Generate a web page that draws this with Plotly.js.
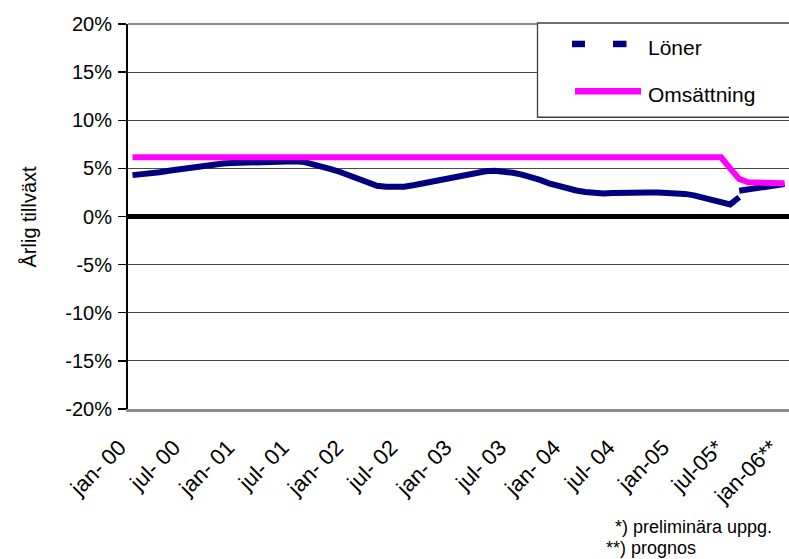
<!DOCTYPE html>
<html>
<head>
<meta charset="utf-8">
<script src="https://cdn.plot.ly/plotly-3.0.1.min.js"></script>
<style>
  html, body { margin: 0; padding: 0; background: #fff; }
  #chart { width: 789px; height: 559px; }
</style>
</head>
<body>
<div id="chart"></div>
<script>
// Monthly categories, jan 2000 – jan 2006
const monthNames = ['jan','feb','mar','apr','maj','jun','jul','aug','sep','okt','nov','dec'];
const years = ['00','01','02','03','04','05','06'];
const months = [];
years.forEach(function (yy) {
  monthNames.forEach(function (m) {
    if (months.length < 73) months.push(m + '-' + yy);
  });
});

// Labelled ticks every six months
const tickCategories = ['jan-00','jul-00','jan-01','jul-01','jan-02','jul-02','jan-03',
                        'jul-03','jan-04','jul-04','jan-05','jul-05','jan-06'];
const tickLabels = ['jan- 00','jul- 00','jan- 01','jul- 01','jan- 02','jul- 02','jan- 03',
                    'jul- 03','jan- 04','jul- 04','jan-05','jul-05*','jan-06**'];

// Y axis ticks (percent)
const yTickValues = [-20, -15, -10, -5, 0, 5, 10, 15, 20];
const yTickLabels = ['-20%', '-15%', '-10%', '-5%', '0%', '5%', '10%', '15%', '20%'];

// Löner, annual growth in percent (jan-00 .. aug-05)
const lonerUtfall = [
  4.30, 4.35, 4.45, 4.60, 4.75, 4.90, 5.05, 5.20, 5.30, 5.40, 5.50, 5.55,
  5.60, 5.60, 5.65, 5.70, 5.80, 5.80, 5.75, 5.65, 5.45, 5.20, 4.90, 4.60,
  4.25, 3.85, 3.45, 3.20, 3.10, 3.05, 3.10, 3.25, 3.45, 3.65, 3.85, 4.05,
  4.25, 4.45, 4.60, 4.70, 4.75, 4.70, 4.55, 4.35, 4.15, 3.80, 3.45, 3.15,
  2.90, 2.70, 2.55, 2.45, 2.40, 2.45, 2.50, 2.55, 2.55, 2.50, 2.50, 2.50,
  2.45, 2.35, 2.20, 2.00, 1.80, 1.55, 1.25, 2.00
];
// Löner, forecast (aug-05 .. jan-06)
const lonerPrognos = [2.67, 2.82, 2.96, 3.10, 3.24, 3.38];

// Omsättning, annual growth in percent (jan-00 .. jan-06)
const omsattning = [
  6.15, 6.15, 6.15, 6.15, 6.15, 6.15, 6.15, 6.15, 6.15, 6.15, 6.15, 6.15,
  6.15, 6.15, 6.15, 6.15, 6.15, 6.15, 6.15, 6.15, 6.15, 6.15, 6.15, 6.15,
  6.15, 6.15, 6.15, 6.15, 6.15, 6.15, 6.15, 6.15, 6.15, 6.15, 6.15, 6.15,
  6.15, 6.15, 6.15, 6.15, 6.15, 6.15, 6.15, 6.15, 6.15, 6.15, 6.15, 6.15,
  6.15, 6.15, 6.15, 6.15, 6.15, 6.15, 6.15, 6.15, 6.15, 6.15, 6.15, 6.15,
  6.15, 6.15, 6.15, 6.15, 6.15, 6.15, 5.00, 3.90, 3.55, 3.50, 3.50, 3.45,
  3.45
];

const seriesNames = ['Löner', 'Omsättning'];
const yTitle = 'Årlig tillväxt';
const footnotes = ['*) preliminära uppg.', '**) prognos'];

const NAVY = '#000080';
const PINK = '#FF00FF';
const FONT = 'Liberation Sans, Arial, sans-serif';

// Plot area in pixels
const W = 789, H = 559;
const L = 128, R = 789, T = 23.5, B = 409.5;
const px = function (x) { return (x - L) / (R - L); };
const py = function (y) { return (B - y) / (B - T); };

const traces = [
  {
    x: months.slice(0, lonerUtfall.length), y: lonerUtfall,
    type: 'scatter', mode: 'lines', name: seriesNames[0], showlegend: false,
    line: { color: NAVY, width: 6 }, hoverinfo: 'x+y'
  },
  {
    x: months.slice(months.length - lonerPrognos.length), y: lonerPrognos,
    type: 'scatter', mode: 'lines', name: seriesNames[0], showlegend: false,
    line: { color: NAVY, width: 6 }, hoverinfo: 'x+y'
  },
  {
    x: months, y: omsattning,
    type: 'scatter', mode: 'lines', name: seriesNames[1], showlegend: false,
    line: { color: PINK, width: 6 }, hoverinfo: 'x+y'
  }
];

// Legend frame and samples, plus the plot area's top border
const shapes = [
  { type: 'line', xref: 'paper', yref: 'paper', x0: 0, x1: 1, y0: 1, y1: 1,
    line: { color: '#8c8c8c', width: 2 }, layer: 'above' },
  { type: 'rect', xref: 'paper', yref: 'paper',
    x0: px(537.5), x1: px(805), y0: py(22.5), y1: py(117),
    fillcolor: '#ffffff', line: { color: '#404040', width: 1.3 }, layer: 'above' },
  { type: 'line', xref: 'paper', yref: 'paper', x0: px(572), x1: px(585), y0: py(43.5), y1: py(43.5),
    line: { color: NAVY, width: 6.5 }, layer: 'above' },
  { type: 'line', xref: 'paper', yref: 'paper', x0: px(613), x1: px(626.5), y0: py(43.5), y1: py(43.5),
    line: { color: NAVY, width: 6.5 }, layer: 'above' },
  { type: 'line', xref: 'paper', yref: 'paper', x0: px(575), x1: px(641), y0: py(91), y1: py(91),
    line: { color: PINK, width: 6.5 }, layer: 'above' }
];

const annotations = [
  { xref: 'paper', yref: 'paper', x: px(646), y: py(47), xanchor: 'left', yanchor: 'middle',
    text: seriesNames[0], showarrow: false, font: { family: FONT, size: 21, color: '#000' } },
  { xref: 'paper', yref: 'paper', x: px(646), y: py(94), xanchor: 'left', yanchor: 'middle',
    text: seriesNames[1], showarrow: false, font: { family: FONT, size: 21, color: '#000' } },
  { xref: 'paper', yref: 'paper', x: px(28), y: 0.5, xanchor: 'center', yanchor: 'middle',
    text: yTitle, textangle: -90, showarrow: false, font: { family: FONT, size: 20, color: '#000' } },
  { xref: 'paper', yref: 'paper', x: px(613), y: py(528), xanchor: 'left', yanchor: 'middle',
    text: footnotes[0], showarrow: false, font: { family: FONT, size: 18, color: '#000' } },
  { xref: 'paper', yref: 'paper', x: px(604), y: py(549), xanchor: 'left', yanchor: 'middle',
    text: footnotes[1], showarrow: false, font: { family: FONT, size: 18, color: '#000' } }
];

const layout = {
  width: W, height: H,
  margin: { l: L, r: W - R, t: T, b: H - B, pad: 0 },
  paper_bgcolor: '#ffffff', plot_bgcolor: '#ffffff',
  showlegend: false,
  font: { family: FONT, size: 20, color: '#000' },
  xaxis: {
    type: 'category',
    categoryorder: 'array', categoryarray: months,
    range: [-0.5, months.length - 0.5],
    tickmode: 'array', tickvals: tickCategories, ticktext: tickLabels,
    tickangle: -45, ticks: '', showgrid: false, zeroline: false,
    ticklabelstandoff: 14, ticklabelshift: -13,
    showline: true, linecolor: '#8c8c8c', linewidth: 3,
    tickfont: { family: FONT, size: 22, color: '#000' },
    automargin: false
  },
  yaxis: {
    range: [-20, 20],
    tickmode: 'array', tickvals: yTickValues, ticktext: yTickLabels,
    ticks: 'outside', ticklen: 8, tickwidth: 1.3, tickcolor: '#000',
    ticklabelstandoff: 2,
    showline: true, linecolor: '#000', linewidth: 2,
    showgrid: true, gridcolor: '#4a4a4a', gridwidth: 1,
    zeroline: true, zerolinecolor: '#000', zerolinewidth: 5,
    tickfont: { family: FONT, size: 20, color: '#000' },
    automargin: false
  },
  shapes: shapes,
  annotations: annotations
};

Plotly.newPlot('chart', traces, layout, { displayModeBar: false, staticPlot: true });
</script>
</body>
</html>
